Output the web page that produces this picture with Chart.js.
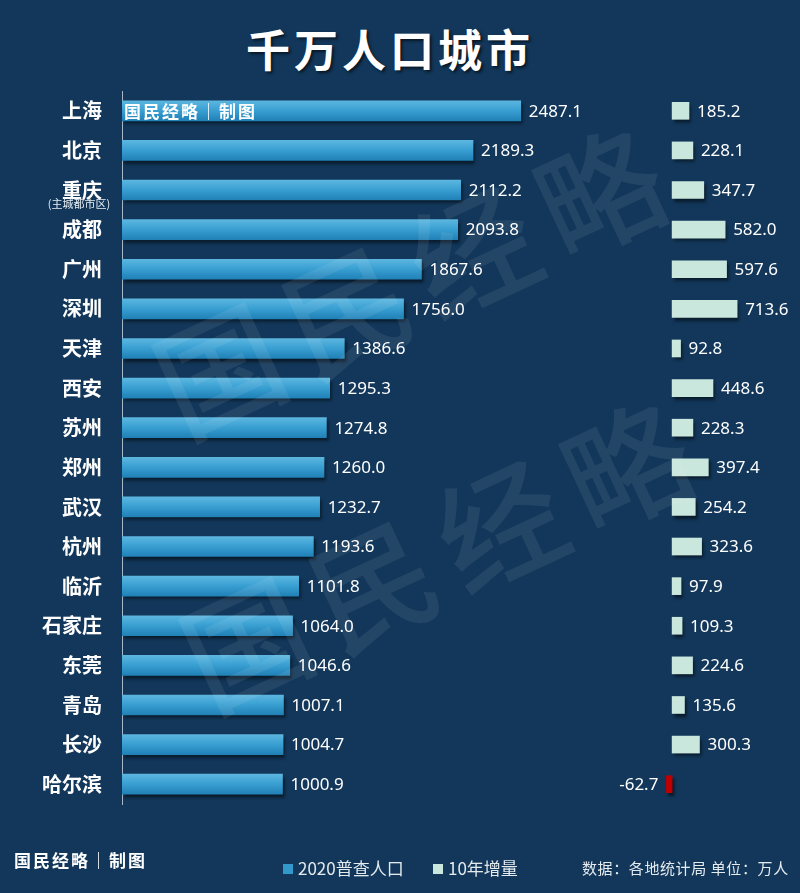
<!DOCTYPE html>
<html lang="zh-CN">

<head>
    <meta charset="UTF-8">
    <title>千万人口城市</title>
    <script src="https://cdn.jsdelivr.net/npm/chart.js"></script>
    <style>
        body {
            margin: 0;
            background: #12375a;
            font-family: "Noto Sans CJK SC", "Noto Sans", sans-serif;
        }

        #pagina {
            position: relative;
            width: 800px;
            height: 893px;
            overflow: hidden;
            background: #12375a;
        }

        .camada {
            position: absolute;
            left: 0;
            top: 0;
            width: 800px;
            height: 893px;
        }

        #titulo {
            position: absolute;
            left: 0;
            top: 26px;
            width: 780px;
            text-align: center;
            color: #fff;
            font-size: 44px;
            line-height: 44px;
            font-weight: bold;
            letter-spacing: 4px;
            text-shadow: 2px 2px 3px rgba(0, 0, 0, 0.6);
        }

        .marca {
            position: absolute;
            color: #fff;
            font-size: 17px;
            line-height: 20px;
            font-weight: bold;
            letter-spacing: 2px;
            z-index: 5;
        }

        .legenda {
            position: absolute;
            top: 858px;
            color: #e4eaee;
            font-size: 17px;
            line-height: 20px;
            z-index: 5;
        }

        .legenda i {
            display: inline-block;
            width: 10px;
            height: 10px;
            margin-right: 5px;
            vertical-align: 1px;
        }

        #fonte {
            position: absolute;
            left: 582px;
            top: 859px;
            color: #e4eaee;
            font-size: 15px;
            line-height: 18px;
            letter-spacing: 0.6px;
            z-index: 5;
        }
    </style>
</head>

<body>
    <div id="pagina">
        <div id="titulo">千万人口城市</div>
        <div class="camada"><canvas id="graficoPopulacao"></canvas></div>
        <div class="camada"><canvas id="graficoIncremento"></canvas></div>

        <div class="marca" style="left:124px; top:101px;">国民经略｜制图</div>
        <div class="marca" style="left:14px; top:850px;">国民经略｜制图</div>

        <div class="legenda" style="left:283px;"><i style="background:#3399cc"></i>2020普查人口</div>
        <div class="legenda" style="left:433px;"><i style="background:#c9e7dc"></i>10年增量</div>
        <div id="fonte">数据：各地统计局 单位：万人</div>
    </div>

    <script>
        // dados (万人)
        const cidades = ['上海', '北京', '重庆', '成都', '广州', '深圳', '天津', '西安', '苏州',
            '郑州', '武汉', '杭州', '临沂', '石家庄', '东莞', '青岛', '长沙', '哈尔滨'];
        const populacao2020 = [2487.1, 2189.3, 2112.2, 2093.8, 1867.6, 1756.0, 1386.6, 1295.3, 1274.8,
            1260.0, 1232.7, 1193.6, 1101.8, 1064.0, 1046.6, 1007.1, 1004.7, 1000.9];
        const incremento10 = [185.2, 228.1, 347.7, 582.0, 597.6, 713.6, 92.8, 448.6, 228.3,
            397.4, 254.2, 323.6, 97.9, 109.3, 224.6, 135.6, 300.3, -62.7];

        // sombra das barras
        const sombra = {
            id: 'sombra',
            beforeDatasetDraw(chart) {
                const ctx = chart.ctx;
                ctx.save();
                ctx.shadowColor = 'rgba(0, 0, 0, 0.55)';
                ctx.shadowOffsetX = 2;
                ctx.shadowOffsetY = 3;
                ctx.shadowBlur = 3;
            },
            afterDatasetDraw(chart) {
                chart.ctx.restore();
            }
        };

        // numeros ao lado das barras
        const rotulos = {
            id: 'rotulos',
            afterDatasetsDraw(chart) {
                const ctx = chart.ctx;
                const valores = chart.data.datasets[0].data;
                ctx.save();
                ctx.font = '17px "Noto Sans", sans-serif';
                ctx.fillStyle = '#ffffff';
                ctx.textBaseline = 'middle';
                chart.getDatasetMeta(0).data.forEach(function (barra, i) {
                    const v = valores[i];
                    if (v >= 0) {
                        ctx.textAlign = 'left';
                        ctx.fillText(v.toFixed(1), barra.x + 8, barra.y + 1);
                    } else {
                        ctx.textAlign = 'right';
                        ctx.fillText(v.toFixed(1), barra.x - 8, barra.y + 1);
                    }
                });
                ctx.restore();
            }
        };

        // "(主城都市区)" embaixo de 重庆
        const subRotulo = {
            id: 'subRotulo',
            afterDraw(chart) {
                const ctx = chart.ctx;
                const y = chart.scales.y.getPixelForValue(2);
                ctx.save();
                ctx.font = '11px "Noto Sans CJK SC", sans-serif';
                ctx.fillStyle = '#e6edf2';
                ctx.textAlign = 'center';
                ctx.textBaseline = 'middle';
                ctx.fillText('(主城都市区)', 79, y + 14);
                ctx.restore();
            }
        };

        // marca d'agua diagonal
        const marcaDagua = {
            id: 'marcaDagua',
            afterDraw(chart) {
                const ctx = chart.ctx;
                const posicoes = [[410, 282], [437, 556]];
                ctx.save();
                ctx.font = '500 124px "Noto Sans CJK SC", sans-serif';
                ctx.fillStyle = 'rgba(255, 255, 255, 0.08)';
                ctx.textAlign = 'center';
                ctx.textBaseline = 'middle';
                posicoes.forEach(function (p) {
                    ctx.save();
                    ctx.translate(p[0], p[1]);
                    ctx.rotate(-25 * Math.PI / 180);
                    '国民经略'.split('').forEach(function (c, i) {
                        ctx.fillText(c, (i - 1.5) * 140, 0);
                    });
                    ctx.restore();
                });
                ctx.restore();
            }
        };

        function corAzul(c) {
            const chart = c.chart;
            if (!chart.chartArea || c.dataIndex === undefined) return '#3399cc';
            const y = chart.scales.y.getPixelForValue(c.dataIndex);
            const g = chart.ctx.createLinearGradient(0, y - 10, 0, y + 10);
            g.addColorStop(0, '#5cb6df');
            g.addColorStop(0.45, '#3ba1d3');
            g.addColorStop(1, '#2081b7');
            return g;
        }

        const graficoPopulacao = new Chart(document.getElementById('graficoPopulacao'), {
            type: 'bar',
            data: {
                labels: cidades,
                datasets: [{
                    label: '2020普查人口',
                    data: populacao2020,
                    backgroundColor: corAzul,
                    borderWidth: 0,
                    barThickness: 20
                }]
            },
            options: {
                indexAxis: 'y',
                responsive: true,
                maintainAspectRatio: false,
                animation: false,
                layout: { padding: { top: 91, bottom: 89, left: 0, right: 197 } },
                plugins: {
                    legend: { display: false },
                    tooltip: { enabled: false }
                },
                scales: {
                    x: { display: false, min: 0, max: 3000 },
                    y: {
                        afterFit: function (s) { s.width = 122; },
                        grid: { display: false, drawTicks: false },
                        border: { display: true, color: '#a9b8c6', width: 1 },
                        ticks: {
                            color: '#ffffff',
                            padding: 20,
                            font: { family: '"Noto Sans CJK SC", sans-serif', size: 20, weight: 'bold' }
                        }
                    }
                }
            },
            plugins: [sombra, rotulos, subRotulo]
        });

        const graficoIncremento = new Chart(document.getElementById('graficoIncremento'), {
            type: 'bar',
            data: {
                labels: cidades,
                datasets: [{
                    label: '10年增量',
                    data: incremento10,
                    backgroundColor: incremento10.map(v => v < 0 ? '#c00000' : '#c9e7dc'),
                    borderWidth: 0,
                    barThickness: 17
                }]
            },
            options: {
                indexAxis: 'y',
                responsive: true,
                maintainAspectRatio: false,
                animation: false,
                layout: { padding: { top: 91, bottom: 89, left: 663, right: 55 } },
                plugins: {
                    legend: { display: false },
                    tooltip: { enabled: false }
                },
                scales: {
                    x: { display: false, min: -100, max: 800 },
                    y: { display: false }
                }
            },
            plugins: [sombra, rotulos, marcaDagua]
        });
    </script>
</body>

</html>
